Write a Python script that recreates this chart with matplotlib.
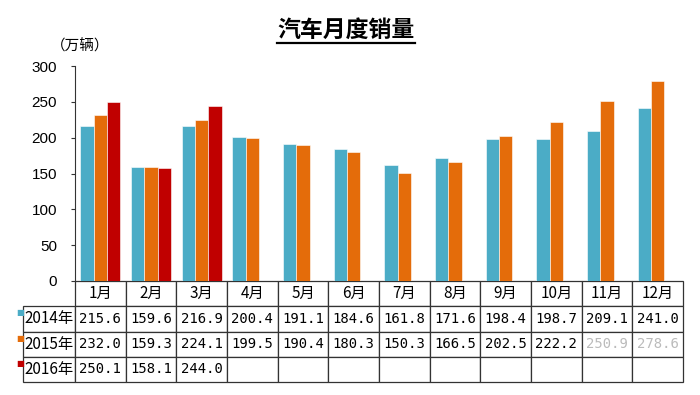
import numpy as np
import matplotlib
matplotlib.use("Agg")
import matplotlib.pyplot as plt
from matplotlib.lines import Line2D

plt.rcParams['font.family'] = ['Noto Sans CJK SC', 'DejaVu Sans']

months = ["1月", "2月", "3月", "4月", "5月", "6月", "7月", "8月", "9月", "10月", "11月", "12月"]
sales_2014 = [215.6, 159.6, 216.9, 200.4, 191.1, 184.6, 161.8, 171.6, 198.4, 198.7, 209.1, 241.0]
sales_2015 = [232.0, 159.3, 224.1, 199.5, 190.4, 180.3, 150.3, 166.5, 202.5, 222.2, 250.9, 278.6]
sales_2016 = [250.1, 158.1, 244.0]
series_names = ["2014年", "2015年", "2016年"]
colors = ["#4BACC6", "#E46C0A", "#C00000"]
yticks = [0, 50, 100, 150, 200, 250, 300]

W, H = 700, 395
fig = plt.figure(figsize=(7, 3.95), dpi=100)
ax_l, ax_r, ax_b, ax_t = 75, 683, 281, 66
ax = fig.add_axes([ax_l / W, 1 - ax_b / H, (ax_r - ax_l) / W, (ax_b - ax_t) / H])

series = [sales_2014, sales_2015, sales_2016]
x = np.arange(len(months))
bw = 0.265
for k, (vals, c) in enumerate(zip(series, colors)):
    v = np.full(len(months), np.nan)
    v[:len(vals)] = vals
    ax.bar(x + (k - 1) * bw, v, width=bw, color=c, edgecolor='white', linewidth=0.4, zorder=2)

ax.set_xlim(-0.5, len(months) - 0.5)
ax.set_ylim(0, 300)
ax.set_yticks(yticks)
ax.set_yticklabels([str(t) for t in yticks], fontfamily='Liberation Sans', fontsize=11)
ax.tick_params(axis='y', direction='out', length=3, pad=10, width=0.8, color='#333333')
ax.tick_params(axis='x', bottom=False, labelbottom=False)
for s in ['top', 'right', 'bottom']:
    ax.spines[s].set_visible(False)
ax.spines['left'].set_color('#333333')
ax.spines['left'].set_linewidth(0.8)

# data table
cell_text = []
for vals in series:
    row = [f"{v:.1f}" for v in vals] + [""] * (len(months) - len(vals))
    cell_text.append(row)

tbl_h_px = 382 - 281
lab_w_px = 62
ax_w_px = ax_r - ax_l
ax_h_px = ax_b - ax_t
tbl = ax.table(cellText=cell_text, rowLabels=series_names, colLabels=months,
               cellLoc='center', rowLoc='right', colLoc='center',
               bbox=[0, -tbl_h_px / ax_h_px, 1, tbl_h_px / ax_h_px])
tbl.auto_set_font_size(False)
for (r, c), cell in tbl.get_celld().items():
    cell.set_edgecolor('#333333')
    cell.set_linewidth(0.9)
    cell.get_text().set_fontsize(11)
    cell.PAD = 0.03
    if c == -1:
        cell.set_width(lab_w_px / ax_w_px)
    else:
        cell.set_width(1 / len(months))
    if r >= 1 and c >= 0:
        cell.get_text().set_fontfamily('DejaVu Sans Mono')
        cell.get_text().set_fontsize(10)
    if r == 2 and c in (10, 11):
        cell.get_text().set_color('#BBBBBB')

# legend squares in row labels
row_h = tbl_h_px / 4
for k, c in enumerate(colors):
    yc = ax_b + row_h * (k + 1.5) - 6
    ax.text((20 - ax_l) / ax_w_px, (ax_b - yc) / ax_h_px, "■", color=c, fontsize=6,
            ha='center', va='center', transform=ax.transAxes, clip_on=False,
            fontfamily='DejaVu Sans')

# title with underline
title = fig.text(346 / W, 1 - 30 / H, "汽车月度销量", ha='center', va='center',
                 fontsize=16.5, fontweight='bold')
fig.text(51 / W, 1 - 46 / H, "（万辆）", ha='left', va='center', fontsize=10.5)

fig.canvas.draw()
bb = title.get_window_extent()
uy = bb.y0 - 1
fig.add_artist(Line2D([bb.x0 / (W), bb.x1 / (W)], [uy / H, uy / H],
                      transform=fig.transFigure, color='black', linewidth=1.6))

fig.savefig("out.png", dpi=100)
